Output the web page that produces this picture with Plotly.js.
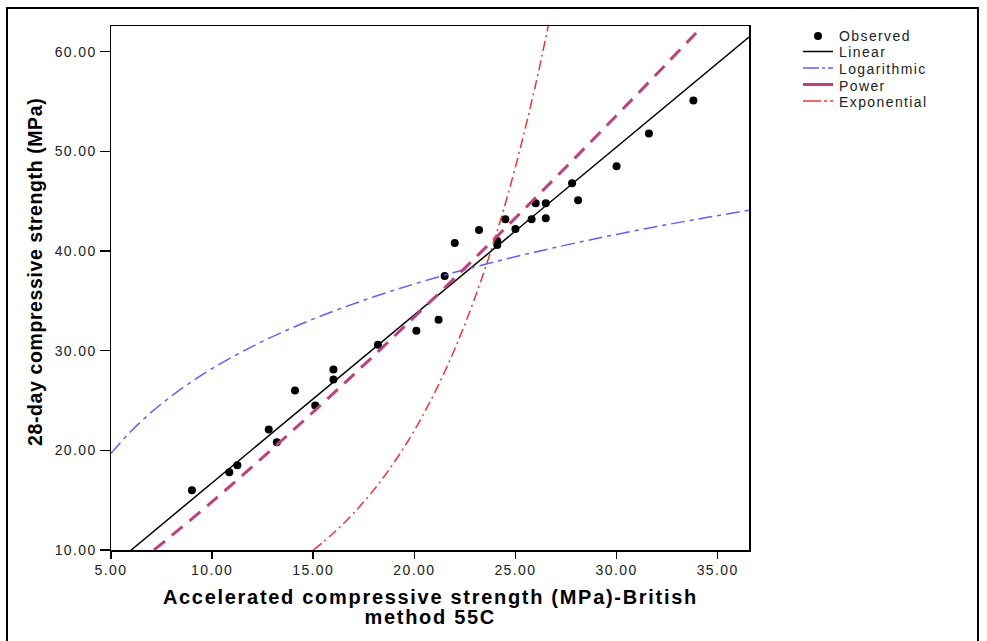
<!DOCTYPE html>
<html>
<head>
<meta charset="utf-8">
<script src="https://cdn.plot.ly/plotly-3.0.1.min.js"></script>
<style>
html,body{margin:0;padding:0;background:#fff;}
#chart{width:987px;height:641px;}
#chart .xtick text, #chart .ytick text { letter-spacing: 1.4px; }
#chart .annotation[data-index="0"] text, #chart .annotation[data-index="1"] text { letter-spacing: 1.7px; }
#chart .annotation[data-index="2"] text { letter-spacing: 0.6px; }
#chart .annotation[data-index="3"] text, #chart .annotation[data-index="4"] text,
#chart .annotation[data-index="5"] text, #chart .annotation[data-index="6"] text,
#chart .annotation[data-index="7"] text { letter-spacing: 1.4px; }
</style>
</head>
<body>
<div id="chart"></div>
<script>
var obsX = [9.0, 10.85, 11.25, 12.8, 13.2, 14.1, 15.1, 16.0, 16.0, 18.2, 20.1, 21.2, 21.5, 22.0, 23.2, 24.1, 24.1, 24.5, 25.0, 25.8, 26.0, 26.5, 26.5, 27.8, 28.1, 30.0, 31.6, 33.8];
var obsY = [16.0, 17.8, 18.5, 22.1, 20.8, 26.0, 24.5, 27.1, 28.1, 30.6, 32.0, 33.1, 37.5, 40.8, 42.1, 41.0, 40.6, 43.2, 42.2, 43.2, 44.8, 44.8, 43.3, 46.8, 45.1, 48.5, 51.8, 55.1];

// Fitted curves, points
var linX = [6.0, 20.0, 36.55];
var linY = [10.0, 33.59, 61.48];

var logX = [5, 6, 7, 8, 9, 10, 12, 14, 16, 18, 20, 23, 26, 29, 32, 34.5, 36.55];
var logY = [19.70, 21.94, 23.83, 25.46, 26.91, 28.20, 30.44, 32.33, 33.96, 35.41, 36.70, 38.41, 39.91, 41.25, 42.46, 43.38, 44.09];

var powX = [7.125, 8, 10, 12, 14, 16, 18, 20, 22, 24, 26, 28, 30, 32, 34.26];
var powY = [10.0, 11.45, 14.85, 18.39, 22.01, 25.72, 29.51, 33.38, 37.30, 41.30, 45.36, 49.45, 53.60, 57.79, 62.58];

var expX = [15.01, 16, 17, 18, 19, 20, 21, 22, 23, 24, 25, 26, 26.62];
var expY = [10.0, 11.70, 13.70, 16.04, 18.79, 22.00, 25.76, 30.17, 35.33, 41.37, 48.44, 56.73, 62.58];

var xTicks = [5, 10, 15, 20, 25, 30, 35];
var yTicks = [10, 20, 30, 40, 50, 60];

var seriesNames = ['Observed', 'Linear', 'Logarithmic', 'Power', 'Exponential'];
var xTitleLines = ['Accelerated compressive strength (MPa)-British', 'method 55C'];
var yTitle = '28-day compressive strength (MPa)';

var colors = {lin: '#000000', log: '#5f5fff', pow: '#c0407f', exp: '#f53333'};
var dashes = {log: '14px,5px,4px,5px', pow: '14px,9px', exp: '10px,4px,2px,4px'};

var traces = [
  {x: obsX, y: obsY, type: 'scatter', mode: 'markers', name: seriesNames[0],
   marker: {color: '#000', size: 8}},
  {x: linX, y: linY, type: 'scatter', mode: 'lines', name: seriesNames[1],
   line: {color: colors.lin, width: 1.5}},
  {x: logX, y: logY, type: 'scatter', mode: 'lines', name: seriesNames[2],
   line: {color: colors.log, width: 1.5, dash: dashes.log, shape: 'spline'}},
  {x: powX, y: powY, type: 'scatter', mode: 'lines', name: seriesNames[3],
   line: {color: colors.pow, width: 3, dash: dashes.pow, shape: 'spline'}},
  {x: expX, y: expY, type: 'scatter', mode: 'lines', name: seriesNames[4],
   line: {color: colors.exp, width: 1.5, dash: dashes.exp, shape: 'spline'}}
];

var font = 'Liberation Sans, Arial, sans-serif';

// pixel -> paper helpers (plot area: left 111, width 638, bottom 550, height 524)
function px(xp) { return (xp - 111) / 638; }
function py(yp) { return (550 - yp) / 524; }

var annotations = [
  {text: '<b>' + xTitleLines[0] + '</b>', xref: 'paper', yref: 'paper', x: px(430), y: py(597),
   xanchor: 'center', yanchor: 'middle', showarrow: false, font: {family: font, size: 20, color: '#000'}},
  {text: '<b>' + xTitleLines[1] + '</b>', xref: 'paper', yref: 'paper', x: px(430), y: py(617),
   xanchor: 'center', yanchor: 'middle', showarrow: false, font: {family: font, size: 20, color: '#000'}},
  {text: '<b>' + yTitle + '</b>', xref: 'paper', yref: 'paper', x: px(35), y: py(272), textangle: -90,
   xanchor: 'center', yanchor: 'middle', showarrow: false, font: {family: font, size: 19.5, color: '#000'}}
];
var legendRowY = [36, 52.5, 69, 85.5, 102];
var shapes = [
  {type: 'rect', xref: 'paper', yref: 'paper',
   x0: px(7), x1: px(978), y0: py(648), y1: py(8),
   line: {color: '#000', width: 2}, fillcolor: 'rgba(0,0,0,0)', layer: 'below'}
];
for (var i = 0; i < seriesNames.length; i++) {
  annotations.push({text: seriesNames[i], xref: 'paper', yref: 'paper', x: px(837), y: py(legendRowY[i]),
    xanchor: 'left', yanchor: 'middle', align: 'left', showarrow: false,
    font: {family: font, size: 14, color: '#222'}});
}
// legend symbols
shapes.push({type: 'circle', xref: 'paper', yref: 'paper',
  x0: px(814), x1: px(822), y0: py(legendRowY[0] + 4), y1: py(legendRowY[0] - 4),
  fillcolor: '#000', line: {color: '#000', width: 0}});
var legKeys = ['lin', 'log', 'pow', 'exp'];
var legWidths = [1.5, 1.5, 3, 1.5];
var legDash = ['solid', '16px,3px,3px,3px', 'solid', '18px,3px,3px,3px'];
for (var k = 0; k < legKeys.length; k++) {
  shapes.push({type: 'line', xref: 'paper', yref: 'paper',
    x0: px(803), x1: px(833), y0: py(legendRowY[k + 1] - 1), y1: py(legendRowY[k + 1] - 1),
    line: {color: colors[legKeys[k]], width: legWidths[k], dash: legDash[k]}});
}

var layout = {
  width: 987, height: 641,
  margin: {l: 111, r: 238, t: 26, b: 91, pad: 0},
  paper_bgcolor: '#fff', plot_bgcolor: '#fff',
  font: {family: font, color: '#000'},
  showlegend: false,
  xaxis: {
    range: [5, 36.55], tickvals: xTicks, ticktext: xTicks.map(function(v){return v.toFixed(2);}),
    ticks: 'outside', ticklen: 7, tickwidth: 1.5, tickcolor: '#000',
    showline: true, linecolor: '#000', linewidth: 1.5, mirror: true,
    showgrid: false, zeroline: false,
    tickfont: {family: font, size: 14, color: '#222'}
  },
  yaxis: {
    range: [10, 62.58], tickvals: yTicks, ticktext: yTicks.map(function(v){return v.toFixed(2);}),
    ticks: 'outside', ticklen: 10, tickwidth: 1.5, tickcolor: '#000',
    showline: true, linecolor: '#000', linewidth: 1.5, mirror: true,
    showgrid: false, zeroline: false,
    tickfont: {family: font, size: 14, color: '#222'}
  },
  annotations: annotations,
  shapes: shapes
};

Plotly.newPlot('chart', traces, layout, {displayModeBar: false, staticPlot: true});
</script>
</body>
</html>
